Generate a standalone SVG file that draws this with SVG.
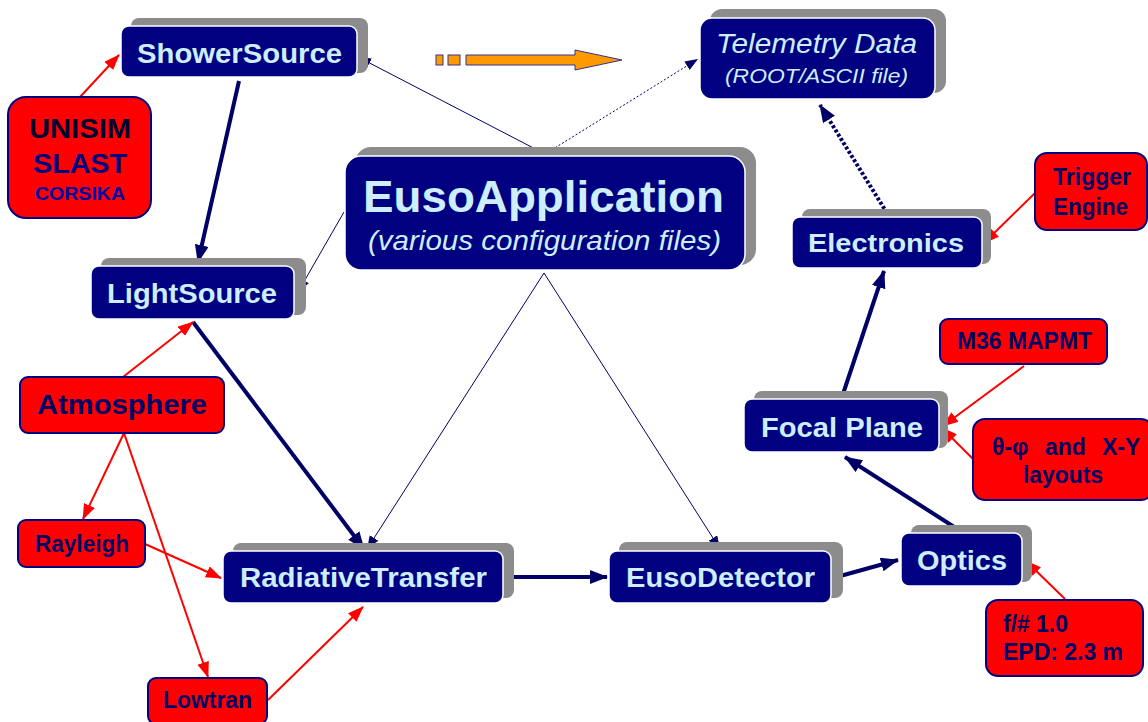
<svg xmlns="http://www.w3.org/2000/svg" width="1148" height="722" viewBox="0 0 1148 722">
<defs>
<style>
.sh{fill:#8c8c8c}
.bx{fill:#000080;stroke:#ffffff;stroke-width:1.5}
.rb{fill:#ff0000;stroke:#000080;stroke-width:2}
.bt{font-family:"Liberation Sans",Arial,sans-serif;font-weight:bold;fill:#cceeff;font-size:27px}
.it{font-family:"Liberation Sans",Arial,sans-serif;font-style:italic;fill:#cceeff}
.rt{font-family:"Liberation Sans",Arial,sans-serif;font-weight:bold;fill:#000066;font-size:24px}
.thick{stroke:#000066;stroke-width:4;fill:none}
.thin{stroke:#000066;stroke-width:1;fill:none}
.red{stroke:#ff0000;stroke-width:2;fill:none}
</style>
<marker id="mThick" markerUnits="userSpaceOnUse" markerWidth="20" markerHeight="16" refX="17" refY="7" orient="auto"><path d="M0,0 L18,7 L0,14 z" fill="#000066"/></marker>
<marker id="mThin" markerUnits="userSpaceOnUse" markerWidth="14" markerHeight="12" refX="13" refY="5" orient="auto"><path d="M0,0 L13,5 L0,10 z" fill="#000066"/></marker>
<marker id="mRed" markerUnits="userSpaceOnUse" markerWidth="18" markerHeight="14" refX="15" refY="6" orient="auto"><path d="M0,0 L16,6 L0,12 z" fill="#ff0000"/></marker>
</defs>
<rect width="1148" height="722" fill="#ffffff"/>

<g id="connectors">
<line class="thick" x1="239" y1="81" x2="198" y2="262" marker-end="url(#mThick)"/>
<line class="thick" x1="193" y1="322" x2="364" y2="549" marker-end="url(#mThick)"/>
<line class="thick" x1="505" y1="577" x2="607" y2="577" marker-end="url(#mThick)"/>
<line class="thick" x1="833" y1="578" x2="898" y2="560" marker-end="url(#mThick)"/>
<line class="thick" x1="962" y1="532" x2="845" y2="457" marker-end="url(#mThick)"/>
<line class="thick" x1="842" y1="397" x2="884" y2="271" marker-end="url(#mThick)"/>
<line class="thick" x1="887" y1="213" x2="820" y2="105" stroke-dasharray="3 2" marker-end="url(#mThick)"/>
<line class="thin" x1="545" y1="154" x2="358" y2="57" marker-end="url(#mThin)"/>
<line class="thin" x1="545" y1="154" x2="698" y2="59" stroke-dasharray="2 2" marker-end="url(#mThin)"/>
<line class="thin" x1="344" y1="212" x2="298" y2="292" marker-end="url(#mThin)"/>
<line class="thin" x1="544" y1="273" x2="367" y2="549" marker-end="url(#mThin)"/>
<line class="thin" x1="544" y1="273" x2="720" y2="549" marker-end="url(#mThin)"/>
<line class="red" x1="80" y1="97" x2="119" y2="55" marker-end="url(#mRed)"/>
<line class="red" x1="123" y1="377" x2="193" y2="322" marker-end="url(#mRed)"/>
<line class="red" x1="124" y1="433" x2="83" y2="519" marker-end="url(#mRed)"/>
<line class="red" x1="124" y1="433" x2="208" y2="677" marker-end="url(#mRed)"/>
<line class="red" x1="145" y1="544" x2="221" y2="578" marker-end="url(#mRed)"/>
<line class="red" x1="268" y1="700" x2="363" y2="607" marker-end="url(#mRed)"/>
<line class="red" x1="1035" y1="193" x2="984" y2="243" marker-end="url(#mRed)"/>
<line class="red" x1="1024" y1="366" x2="943" y2="426" marker-end="url(#mRed)"/>
<line class="red" x1="973" y1="459" x2="942" y2="428" marker-end="url(#mRed)"/>
<line class="red" x1="1065" y1="599" x2="1026" y2="561" marker-end="url(#mRed)"/>
<g id="orange-arrow" fill="#ff9900" stroke="#333399" stroke-width="1">
<rect x="436" y="55" width="7" height="10"/>
<rect x="448" y="55" width="12" height="10"/>
<polygon points="466,55 575,55 575,50 622,60 575,70 575,65 466,65"/>
</g>
</g>

<g id="ShowerSource">
<rect class="sh" x="131" y="18" width="237" height="55" rx="8"/>
<rect class="bx" x="121" y="26" width="236" height="51" rx="8"/>
<text class="bt" x="137" y="63" textLength="205" lengthAdjust="spacingAndGlyphs">ShowerSource</text>
</g>
<g id="EusoApplication">
<rect class="sh" x="355" y="147" width="401" height="118" rx="16"/>
<rect class="bx" x="345" y="156" width="400" height="114" rx="16"/>
<text class="bt" x="363" y="212" style="font-size:45px" textLength="361" lengthAdjust="spacingAndGlyphs">EusoApplication</text>
<text class="it" x="368" y="250" style="font-size:28px" textLength="353" lengthAdjust="spacingAndGlyphs">(various configuration files)</text>
</g>
<g id="Telemetry">
<rect class="sh" x="710" y="9" width="236" height="84" rx="12"/>
<rect class="bx" x="700" y="18" width="235" height="81" rx="12"/>
<text class="it" x="716" y="53" style="font-size:27px" textLength="201" lengthAdjust="spacingAndGlyphs">Telemetry Data</text>
<text class="it" x="725" y="83" style="font-size:21px" textLength="183" lengthAdjust="spacingAndGlyphs">(ROOT/ASCII file)</text>
</g>
<g id="Electronics">
<rect class="sh" x="802" y="209" width="189" height="55" rx="8"/>
<rect class="bx" x="792" y="217" width="190" height="51" rx="8"/>
<text class="bt" x="808" y="252" style="font-size:26px" textLength="156" lengthAdjust="spacingAndGlyphs">Electronics</text>
</g>
<g id="LightSource">
<rect class="sh" x="101" y="258" width="205" height="57" rx="8"/>
<rect class="bx" x="91" y="266" width="203" height="53" rx="8"/>
<text class="bt" x="107" y="303" textLength="170" lengthAdjust="spacingAndGlyphs">LightSource</text>
</g>
<g id="FocalPlane">
<rect class="sh" x="754" y="391" width="194" height="57" rx="8"/>
<rect class="bx" x="744" y="399" width="195" height="53" rx="8"/>
<text class="bt" x="761" y="437" textLength="162" lengthAdjust="spacingAndGlyphs">Focal Plane</text>
</g>
<g id="Optics">
<rect class="sh" x="911" y="525" width="121" height="57" rx="8"/>
<rect class="bx" x="901" y="533" width="121" height="53" rx="8"/>
<text class="bt" x="917" y="570" textLength="90" lengthAdjust="spacingAndGlyphs">Optics</text>
</g>
<g id="EusoDetector">
<rect class="sh" x="619" y="542" width="224" height="56" rx="8"/>
<rect class="bx" x="609" y="551" width="222" height="52" rx="8"/>
<text class="bt" x="626" y="587" textLength="189" lengthAdjust="spacingAndGlyphs">EusoDetector</text>
</g>
<g id="RadiativeTransfer">
<rect class="sh" x="233" y="543" width="281" height="55" rx="8"/>
<rect class="bx" x="223" y="551" width="280" height="52" rx="8"/>
<text class="bt" x="240" y="587" textLength="247" lengthAdjust="spacingAndGlyphs">RadiativeTransfer</text>
</g>

<g id="UNISIM">
<rect class="rb" x="8" y="97" width="143" height="121" rx="18"/>
<text class="rt" x="29" y="138" style="font-size:28px;fill:#000033" textLength="102" lengthAdjust="spacingAndGlyphs">UNISIM</text>
<text class="rt" x="33" y="173" style="font-size:28px;fill:#000080" textLength="94" lengthAdjust="spacingAndGlyphs">SLAST</text>
<text class="rt" x="35" y="200" style="font-size:19px;fill:#0000aa" textLength="90" lengthAdjust="spacingAndGlyphs">CORSIKA</text>
</g>
<g id="Atmosphere">
<rect class="rb" x="20" y="377" width="204" height="56" rx="8"/>
<text class="rt" x="37" y="414" style="font-size:27px" textLength="170" lengthAdjust="spacingAndGlyphs">Atmosphere</text>
</g>
<g id="Rayleigh">
<rect class="rb" x="18" y="520" width="127" height="47" rx="8"/>
<text class="rt" x="35" y="552" style="font-size:23px" textLength="94" lengthAdjust="spacingAndGlyphs">Rayleigh</text>
</g>
<g id="Lowtran">
<rect class="rb" x="148" y="678" width="119" height="46" rx="8"/>
<text class="rt" x="163" y="708" style="font-size:23px" textLength="89" lengthAdjust="spacingAndGlyphs">Lowtran</text>
</g>
<g id="Trigger">
<rect class="rb" x="1035" y="153" width="112" height="77" rx="12"/>
<text class="rt" x="1053" y="185" style="font-size:23px" textLength="78" lengthAdjust="spacingAndGlyphs">Trigger</text>
<text class="rt" x="1053" y="215" style="font-size:23px" textLength="75" lengthAdjust="spacingAndGlyphs">Engine</text>
</g>
<g id="M36">
<rect class="rb" x="940" y="319" width="167" height="45" rx="8"/>
<text class="rt" x="957" y="349" style="font-size:24px" textLength="135" lengthAdjust="spacingAndGlyphs">M36 MAPMT</text>
</g>
<g id="Layouts">
<rect class="rb" x="973" y="419" width="180" height="81" rx="12"/>
<text class="rt" y="455" style="font-size:23px"><tspan x="992">θ-φ</tspan> <tspan x="1045">and</tspan> <tspan x="1102">X-Y</tspan></text>
<text class="rt" x="1023" y="483" style="font-size:23px" textLength="80" lengthAdjust="spacingAndGlyphs">layouts</text>
</g>
<g id="FNumber">
<rect class="rb" x="986" y="600" width="157" height="76" rx="12"/>
<text class="rt" x="1003" y="632" style="font-size:23px" textLength="65" lengthAdjust="spacingAndGlyphs">f/# 1.0</text>
<text class="rt" x="1003" y="660" style="font-size:23px" textLength="120" lengthAdjust="spacingAndGlyphs">EPD: 2.3 m</text>
</g>
</svg>
